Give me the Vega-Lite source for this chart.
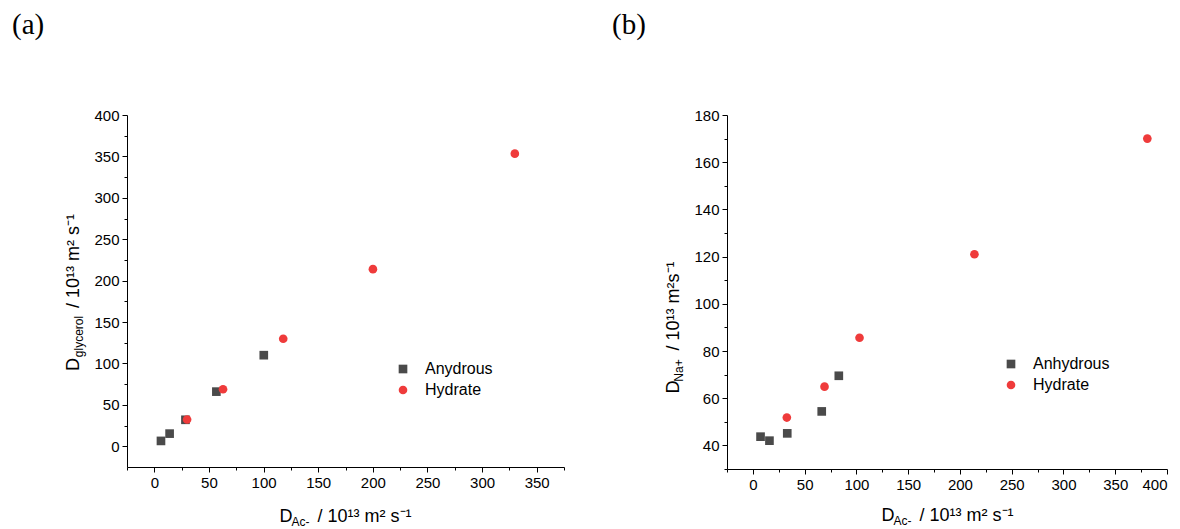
{
  "$schema": "https://vega.github.io/schema/vega-lite/v6.json",
  "autosize": {"type": "pad"},
  "padding": {"left": 12, "top": 11, "right": 0, "bottom": 0},
  "spacing": 163,
  "bounds": "flush",
  "datasets": {
    "a": [
      {"x": 6.1, "y": 6.5, "s": "Anydrous"},
      {"x": 14, "y": 15.3, "s": "Anydrous"},
      {"x": 28.5, "y": 32, "s": "Anydrous"},
      {"x": 56.8, "y": 66, "s": "Anydrous"},
      {"x": 100.2, "y": 110, "s": "Anydrous"},
      {"x": 30, "y": 32.3, "s": "Hydrate"},
      {"x": 62.9, "y": 68.9, "s": "Hydrate"},
      {"x": 118, "y": 129.8, "s": "Hydrate"},
      {"x": 200.1, "y": 213.9, "s": "Hydrate"},
      {"x": 330, "y": 353.3, "s": "Hydrate"}
    ],
    "b": [
      {"x": 7.4, "y": 43.7, "s": "Anhydrous"},
      {"x": 16, "y": 42, "s": "Anhydrous"},
      {"x": 33.2, "y": 45.1, "s": "Anhydrous"},
      {"x": 66.5, "y": 54.4, "s": "Anhydrous"},
      {"x": 83, "y": 69.5, "s": "Anhydrous"},
      {"x": 32.8, "y": 51.8, "s": "Hydrate"},
      {"x": 69.2, "y": 64.9, "s": "Hydrate"},
      {"x": 103, "y": 85.6, "s": "Hydrate"},
      {"x": 214, "y": 121, "s": "Hydrate"},
      {"x": 381, "y": 170, "s": "Hydrate"}
    ]
  },
  "resolve": {
    "scale": {"color": "independent", "shape": "independent"},
    "legend": {"color": "independent", "shape": "independent"}
  },
  "hconcat": [
    {
      "width": 437,
      "height": 352,
      "data": {"name": "a"},
      "title": {"text": "(a)", "anchor": "start", "frame": "group", "dx": -115, "offset": 45, "fontSize": 29, "font": "Liberation Serif", "fontWeight": "normal", "baseline": "alphabetic", "color": "#000000"},
      "resolve": {"axis": {"x": "independent", "y": "independent"}},
      "layer": [
        {
          "mark": {"type": "point", "filled": true, "size": 75, "opacity": 1},
          "encoding": {
            "x": {"field": "x", "type": "quantitative",
              "scale": {"domain": [-25, 375], "nice": false, "zero": false},
              "axis": {"orient": "bottom", "values": [0, 50, 100, 150, 200, 250, 300, 350], "title": "D\u00a0\u00a0\u00a0\u00a0 / 10¹³ m² s⁻¹", "titleX": 218, "titleY": 54, "titleAlign": "center", "titleBaseline": "alphabetic"}},
            "y": {"field": "y", "type": "quantitative",
              "scale": {"domain": [-25, 400], "nice": false, "zero": false},
              "axis": {"orient": "left", "values": [0, 50, 100, 150, 200, 250, 300, 350, 400], "title": "D\u00a0\u00a0\u00a0\u00a0\u00a0\u00a0\u00a0\u00a0\u00a0 / 10¹³ m² s⁻¹", "titleX": -49, "titleY": 177, "titleAlign": "center", "titleBaseline": "alphabetic", "titleAngle": -90}},
            "color": {"field": "s", "type": "nominal", "scale": {"domain": ["Anydrous", "Hydrate"], "range": ["#4a4a4a", "#ef3b3b"]},
              "legend": {"orient": "none", "legendX": 268, "legendY": 246, "title": null}},
            "shape": {"field": "s", "type": "nominal", "scale": {"domain": ["Anydrous", "Hydrate"], "range": ["square", "circle"]},
              "legend": {"orient": "none", "legendX": 268, "legendY": 246, "title": null}}
          }
        },
        {
          "mark": {"type": "point", "filled": true, "size": 75, "opacity": 0},
          "encoding": {
            "x": {"field": "x", "type": "quantitative",
              "axis": {"orient": "bottom", "values": [-25, 25, 75, 125, 175, 225, 275, 325, 375], "tickSize": 3, "labels": false, "domain": false, "title": "Ac-", "titleFontSize": 12, "titleX": 173, "titleY": 58, "titleAlign": "center", "titleBaseline": "alphabetic", "titleAngle": 0}},
            "y": {"field": "y", "type": "quantitative",
              "axis": {"orient": "left", "values": [25, 75, 125, 175, 225, 275, 325, 375], "tickSize": 3, "labels": false, "domain": false, "title": "glycerol", "titleFontSize": 12, "titleX": -45, "titleY": 221, "titleAlign": "center", "titleBaseline": "alphabetic", "titleAngle": -90}}
          }
        }
      ]
    },
    {
      "width": 440,
      "height": 354,
      "data": {"name": "b"},
      "title": {"text": "(b)", "anchor": "start", "frame": "group", "dx": -115, "offset": 45, "fontSize": 29, "font": "Liberation Serif", "fontWeight": "normal", "baseline": "alphabetic", "color": "#000000"},
      "resolve": {"axis": {"x": "independent", "y": "independent"}},
      "layer": [
        {
          "mark": {"type": "point", "filled": true, "size": 75, "opacity": 1},
          "encoding": {
            "x": {"field": "x", "type": "quantitative",
              "scale": {"domain": [-25, 400], "nice": false, "zero": false},
              "axis": {"orient": "bottom", "values": [0, 50, 100, 150, 200, 250, 300, 350, 400], "title": "D\u00a0\u00a0\u00a0\u00a0 / 10¹³ m² s⁻¹", "titleX": 220, "titleY": 51, "titleAlign": "center", "titleBaseline": "alphabetic"}},
            "y": {"field": "y", "type": "quantitative",
              "scale": {"domain": [30, 180], "nice": false, "zero": false},
              "axis": {"orient": "left", "values": [40, 60, 80, 100, 120, 140, 160, 180], "title": "D\u00a0\u00a0\u00a0\u00a0\u00a0 / 10¹³ m²s⁻¹", "titleX": -49, "titleY": 212, "titleAlign": "center", "titleBaseline": "alphabetic", "titleAngle": -90}},
            "color": {"field": "s", "type": "nominal", "scale": {"domain": ["Anhydrous", "Hydrate"], "range": ["#4a4a4a", "#ef3b3b"]},
              "legend": {"orient": "none", "legendX": 276, "legendY": 241, "title": null}},
            "shape": {"field": "s", "type": "nominal", "scale": {"domain": ["Anhydrous", "Hydrate"], "range": ["square", "circle"]},
              "legend": {"orient": "none", "legendX": 276, "legendY": 241, "title": null}}
          }
        },
        {
          "mark": {"type": "point", "filled": true, "size": 75, "opacity": 0},
          "encoding": {
            "x": {"field": "x", "type": "quantitative",
              "axis": {"orient": "bottom", "values": [-25, 25, 75, 125, 175, 225, 275, 325, 375], "tickSize": 3, "labels": false, "domain": false, "title": "Ac-", "titleFontSize": 12, "titleX": 175, "titleY": 55, "titleAlign": "center", "titleBaseline": "alphabetic", "titleAngle": 0}},
            "y": {"field": "y", "type": "quantitative",
              "axis": {"orient": "left", "values": [30, 50, 70, 90, 110, 130, 150, 170], "tickSize": 3, "labels": false, "domain": false, "title": "Na+", "titleFontSize": 12, "titleX": -45, "titleY": 255, "titleAlign": "center", "titleBaseline": "alphabetic", "titleAngle": -90}}
          }
        }
      ]
    }
  ],
  "config": {
    "view": {"stroke": null},
    "font": "Liberation Sans",
    "axis": {
      "grid": false,
      "domainColor": "#000000",
      "tickColor": "#000000",
      "labelColor": "#000000",
      "titleColor": "#000000",
      "labelFont": "Liberation Sans",
      "titleFont": "Liberation Sans",
      "labelFontSize": 15,
      "titleFontSize": 18,
      "titleFontWeight": "normal",
      "tickSize": 5,
      "labelPadding": 3
    },
    "legend": {
      "labelFont": "Liberation Sans",
      "labelFontSize": 16,
      "labelColor": "#000000",
      "symbolSize": 75,
      "symbolStrokeWidth": 0,
      "labelOffset": 14,
      "rowPadding": 5,
      "padding": 0
    }
  }
}
